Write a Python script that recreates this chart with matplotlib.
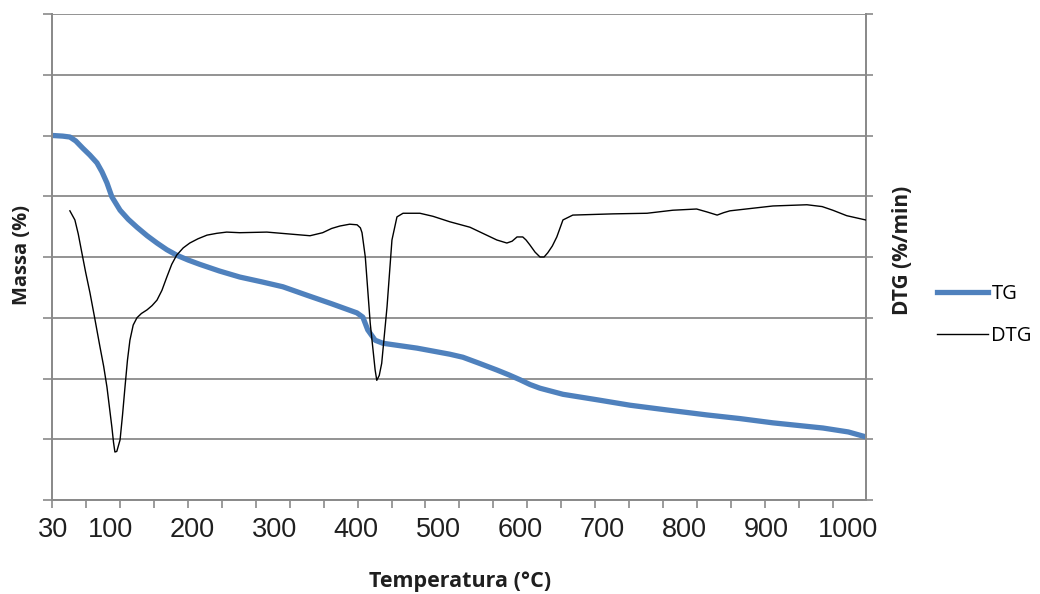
import numpy as np
import matplotlib
matplotlib.use('Agg')
import matplotlib.pyplot as plt
from matplotlib.lines import Line2D

# TG curve: temperature (°C) and mass (%)
tg_temp = [30, 42, 50.8, 58, 66.6, 75, 83.8, 90, 96, 102, 112, 122, 132.6, 145,
           157, 169, 181, 195, 209, 233, 258, 285, 310.5, 340, 370, 400.8, 408,
           414, 423, 432.5, 474, 514, 530, 550, 571.4, 586, 599.5, 612, 624,
           652, 693.5, 733.8, 780, 827.6, 868, 908, 969, 1000, 1021]
tg_mass = [100.0, 99.9, 99.75, 99.1, 97.9, 96.8, 95.5, 94.0, 92.2, 89.9, 87.7,
           86.2, 84.9, 83.5, 82.3, 81.2, 80.3, 79.5, 78.8, 77.7, 76.7, 75.9,
           75.1, 73.7, 72.3, 70.8, 70.1, 68.0, 66.3, 65.8, 65.0, 64.0, 63.5,
           62.5, 61.4, 60.6, 59.8, 59.0, 58.4, 57.4, 56.5, 55.6, 54.8, 54.0,
           53.4, 52.7, 51.85, 51.2, 50.4]

# DTG curve: temperature (°C) and %/min
dtg_temp = [50.8, 56.9, 61, 65.4, 70, 75.3, 81, 87.5, 92, 96, 99, 102, 104,
            105.7, 108, 112, 115, 118, 121, 124, 128, 132.6, 138, 144.9, 151,
            157, 163, 169, 175, 181, 189, 197, 207, 218, 230, 242, 258, 291,
            343.6, 359, 370, 380, 392, 401, 405, 407, 411, 417, 423, 425, 428,
            431, 437.5, 443.5, 449.6, 457, 477.6, 493.5, 514, 538.6, 571.4,
            583.6, 590, 596, 603, 607, 611.6, 618, 624, 629, 633.5, 639, 644.5,
            652, 664, 713, 754.5, 786, 815, 828, 840, 848, 855.6, 908, 949.5,
            968, 981, 998, 1021]
dtg_rate = [-1.24, -1.39, -1.62, -1.93, -2.25, -2.59, -3.00, -3.48, -3.80, -4.14,
            -4.47, -4.80, -5.05, -5.21, -5.20, -5.01, -4.60, -4.14, -3.70, -3.37,
            -3.12, -3.00, -2.93, -2.87, -2.80, -2.71, -2.55, -2.33, -2.12, -1.97,
            -1.85, -1.77, -1.70, -1.64, -1.61, -1.59, -1.60, -1.59, -1.65, -1.60,
            -1.53, -1.49, -1.46, -1.47, -1.52, -1.60, -2.00, -3.09, -3.86, -4.03,
            -3.95, -3.75, -2.82, -1.72, -1.34, -1.28, -1.28, -1.33, -1.42, -1.51,
            -1.72, -1.77, -1.74, -1.67, -1.67, -1.72, -1.80, -1.92, -2.00, -2.00,
            -1.93, -1.82, -1.67, -1.39, -1.31, -1.29, -1.28, -1.23, -1.21, -1.26,
            -1.31, -1.27, -1.24, -1.16, -1.14, -1.17, -1.23, -1.32, -1.39]

x_ticks = [30, 100, 200, 300, 400, 500, 600, 700, 800, 900, 1000]

grid_col = '#8a8a8a'
text_col = '#1f1f1f'
W, H = 1040, 594

fig = plt.figure(figsize=(10.4, 5.94), dpi=100)
ax = fig.add_axes([52 / W, 1 - 500 / H, 814 / W, 486 / H])
ax2 = ax.twinx()

ax.plot(tg_temp, tg_mass, color='#4f81bd', lw=3.8, solid_capstyle='butt', zorder=3)
ax2.plot(dtg_temp, dtg_rate, color='black', lw=1.0, zorder=3)

ax.set_xlim(29, 1021.5)
ax.set_ylim(40, 120)
ax2.set_ylim(-6, 2)
ax.set_yticks(np.arange(40, 121, 10))
ax2.set_yticks(np.arange(-6, 2.1, 1))
ax.yaxis.grid(True, color=grid_col, lw=1.3)
ax.set_axisbelow(True)
ax.set_yticklabels([])
ax2.set_yticklabels([])

ax.set_xticks(x_ticks)
ax.set_xticklabels([str(t) for t in x_ticks], fontsize=19.5,
                   family='Liberation Sans', color=text_col)
ax.set_xticks(np.linspace(29, 29 + 23 * 41.4, 24), minor=True)
ax.tick_params(axis='x', which='major', length=0, pad=12)
ax.tick_params(axis='x', which='minor', length=6, width=1.2, color=grid_col,
               direction='out')
ax.tick_params(axis='y', length=6.5, width=1.2, color=grid_col, direction='out')
ax2.tick_params(axis='y', length=5, width=1.2, color=grid_col, direction='out')

for a in (ax, ax2):
    a.spines['top'].set_visible(False)
    for s in ('left', 'right', 'bottom'):
        a.spines[s].set_color(grid_col)
        a.spines[s].set_linewidth(1.3)

lab_font = dict(family='Open Sans', fontweight='bold', color=text_col)
fig.text(460 / W, 1 - 582 / H, 'Temperatura (°C)', ha='center', va='center',
         fontsize=15.5, **lab_font)
fig.text(22 / W, 1 - 255 / H, 'Massa (%)', ha='center', va='center',
         rotation=90, fontsize=14.5, **lab_font)
fig.text(903 / W, 1 - 250 / H, 'DTG (%/min)', ha='center', va='center',
         rotation=90, fontsize=15, **lab_font)

handles = [Line2D([], [], color='#4f81bd', lw=3.8),
           Line2D([], [], color='black', lw=1.0)]
fig.legend(handles, ['TG', 'DTG'], loc='center left',
           bbox_to_anchor=(937 / W, 1 - 315 / H), borderpad=0, borderaxespad=0,
           frameon=False, handlelength=2.55, handletextpad=0.15, labelspacing=1.1,
           prop={'family': 'Open Sans', 'size': 14.5})

fig.savefig('out.png', dpi=100)
